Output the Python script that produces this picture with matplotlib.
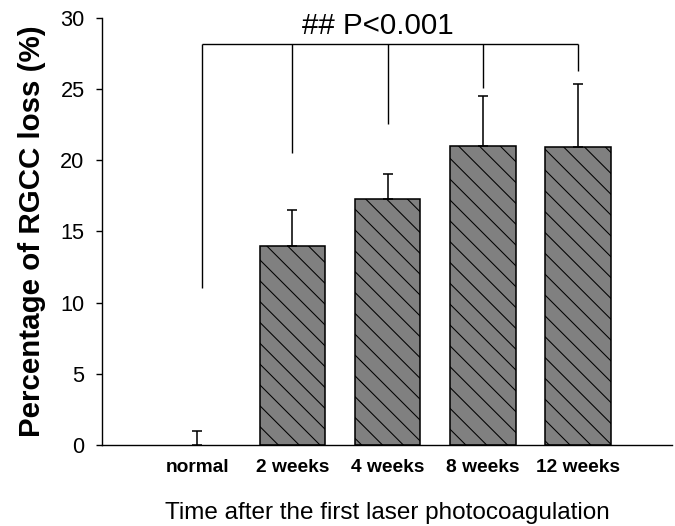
import matplotlib
matplotlib.use("Agg")
import matplotlib.pyplot as plt
import numpy as np

groups = ["normal", "2 weeks", "4 weeks", "8 weeks", "12 weeks"]
loss = [0.0, 14.0, 17.25, 21.0, 20.9]
err_up = [1.0, 2.5, 1.75, 3.5, 4.45]
bracket_top = 28.15
bracket_ends = [11.0, 20.5, 22.55, 25.1, 26.3]
sig_text = "## P<0.001"

plt.rcParams['font.family'] = ['Liberation Sans', 'DejaVu Sans']
plt.rcParams['hatch.linewidth'] = 0.6

# dpi 125 so the hatch spacing comes out near the original
fig = plt.figure(figsize=(5.4, 4.208), dpi=125)
ax = fig.add_axes([0.151, 0.154, 0.845, 0.812])

x = np.arange(len(groups))
colors = ['none'] + ['#808080'] * (len(groups) - 1)
edges = ['none'] + ['black'] * (len(groups) - 1)
ax.bar(x, loss, width=0.69, color=colors, edgecolor=edges,
       linewidth=0.9, hatch='\\\\', zorder=2)
ax.errorbar(x, loss, yerr=[np.zeros(len(x)), err_up], fmt='none',
            ecolor='black', elinewidth=0.9, capsize=3.1, capthick=0.9, zorder=3)

# significance bracket
bx = x.astype(float)
bx[0] += 0.05
ax.hlines(bracket_top, bx[0], bx[-1], color='black', linewidth=0.8)
ax.vlines(bx, bracket_ends, bracket_top, color='black', linewidth=0.8)
ax.text(1.9, 29.45, sig_text, ha='center', va='center', fontsize=17)

ax.set_xlim(-1.0, 4.99)
ax.set_ylim(0, 30)
ax.set_yticks(np.arange(0, 31, 5))
ax.set_xticks(x)
ax.set_xticklabels(groups, fontsize=11, fontweight='bold')
ax.tick_params(axis='x', length=0, pad=8)
ax.tick_params(axis='y', length=3.5, width=0.8, labelsize=12.5, pad=6.5)
for lab in ax.get_yticklabels():
    lab.set_fontstretch('condensed')

ax.spines['top'].set_visible(False)
ax.spines['right'].set_visible(False)
ax.spines['left'].set_linewidth(0.8)
ax.spines['bottom'].set_linewidth(0.8)

ax.set_ylabel("Percentage of RGCC loss (%)", fontsize=17, fontweight='bold', labelpad=8)
ax.set_xlabel("Time after the first laser photocoagulation", fontsize=14, labelpad=15)

fig.savefig("out.png", dpi=125)
